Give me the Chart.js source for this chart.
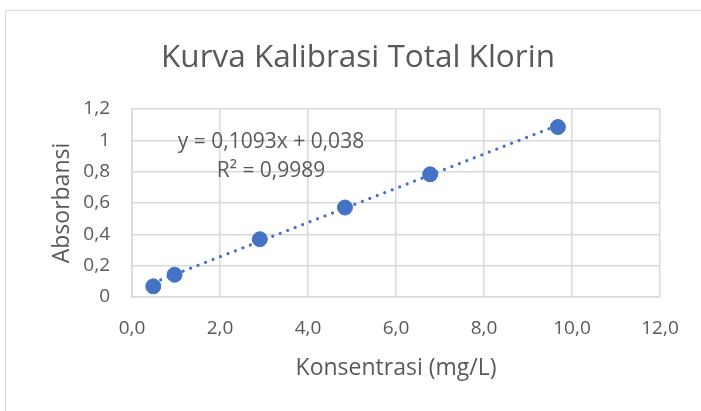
<!DOCTYPE html>
<html>
<head>
<meta charset="utf-8">
<script src="https://cdn.jsdelivr.net/npm/chart.js@4.4.1/dist/chart.umd.min.js"></script>
<style>
  html, body { margin: 0; padding: 0; background: #ffffff; overflow: hidden; }
  #wrap { position: relative; width: 701px; height: 411px; }
  #frame { position: absolute; left: 5px; top: 10px; width: 760px; height: 460px; border: 1px solid #d9d9d9; box-sizing: border-box; }
  canvas { position: absolute; left: 0; top: 0; }
</style>
</head>
<body>
<div id="wrap">
  <div id="frame"></div>
  <canvas id="c" width="701" height="411"></canvas>
</div>
<script>
// Standard solutions: concentration (mg/L) and measured absorbance
const concentrations = [0.484, 0.968, 2.904, 4.84, 6.776, 9.68];
const absorbances = [0.068, 0.142, 0.369, 0.571, 0.783, 1.085];

// Linear fit reported for the calibration
const slope = 0.1093;
const intercept = 0.038;
const rSquared = 0.9989;

const chartTitle = 'Kurva Kalibrasi Total Klorin';
const xTitle = 'Konsentrasi (mg/L)';
const yTitle = 'Absorbansi';

const FONT = '"Open Sans", Lato, sans-serif';
const TEXT = '#595959';
const GRID = '#d9d9d9';
const BLUE = '#4472C4';

const comma = (s) => String(s).replace('.', ',');

const points = concentrations.map((x, i) => ({ x, y: absorbances[i] }));
const xMin = Math.min(...concentrations);
const xMax = Math.max(...concentrations);
const trend = [xMin, xMax].map((x) => ({ x, y: slope * x + intercept }));

// Chart heading, centred over the whole frame
const heading = {
  id: 'heading',
  afterDraw(chart) {
    const { ctx } = chart;
    ctx.save();
    ctx.fillStyle = TEXT;
    ctx.font = '31.5px ' + FONT;
    ctx.textAlign = 'center';
    ctx.textBaseline = 'alphabetic';
    ctx.fillText(chartTitle, 358, 67);
    ctx.restore();
  }
};

// Trendline equation and coefficient of determination
const equationLabel = {
  id: 'equationLabel',
  afterDatasetsDraw(chart) {
    const { ctx, chartArea } = chart;
    ctx.save();
    ctx.fillStyle = TEXT;
    ctx.font = '21px ' + FONT;
    ctx.textAlign = 'center';
    ctx.textBaseline = 'alphabetic';
    const cx = chartArea.left + 139;
    ctx.fillText('y = ' + comma(slope) + 'x + ' + comma(intercept), cx, chartArea.top + 39);
    ctx.fillText('R² = ' + comma(rSquared), cx, chartArea.top + 68);
    ctx.restore();
  }
};

new Chart(document.getElementById('c'), {
  type: 'scatter',
  data: {
    datasets: [
      {
        label: 'Linear',
        data: trend,
        showLine: true,
        borderColor: BLUE,
        borderWidth: 3.2,
        borderDash: [0.01, 8],
        borderCapStyle: 'round',
        pointRadius: 0,
        fill: false,
        order: 2
      },
      {
        label: 'Absorbansi',
        data: points,
        backgroundColor: BLUE,
        borderColor: BLUE,
        pointRadius: 7.5,
        pointHoverRadius: 7.5,
        order: 1
      }
    ]
  },
  options: {
    responsive: false,
    animation: false,
    layout: { padding: { left: 0, right: 41, top: 109, bottom: 0 } },
    plugins: {
      legend: { display: false },
      tooltip: { enabled: false },
      title: { display: false }
    },
    scales: {
      x: {
        type: 'linear',
        min: 0,
        max: 12,
        afterFit(scale) { scale.height = 114; },
        ticks: {
          stepSize: 2,
          color: TEXT,
          font: { family: FONT, size: 19 },
          padding: 20,
          maxRotation: 0,
          callback: (v) => comma(Number(v).toFixed(1))
        },
        grid: { color: GRID, lineWidth: 1.5, drawTicks: false },
        border: { color: GRID, width: 1.5 },
        title: {
          display: true,
          text: xTitle,
          color: TEXT,
          font: { family: FONT, size: 23 },
          padding: { top: 0, bottom: 29 }
        }
      },
      y: {
        type: 'linear',
        min: 0,
        max: 1.2,
        afterFit(scale) { scale.width = 132; },
        ticks: {
          stepSize: 0.2,
          color: TEXT,
          font: { family: FONT, size: 19 },
          padding: 22,
          callback: (v) => comma(Math.round(v * 10) / 10)
        },
        grid: { color: GRID, lineWidth: 1.5, drawTicks: false },
        border: { color: GRID, width: 1.5 },
        title: {
          display: true,
          text: yTitle,
          color: TEXT,
          font: { family: FONT, size: 23 },
          padding: { top: 49, bottom: 0 }
        }
      }
    }
  },
  plugins: [heading, equationLabel]
});
</script>
</body>
</html>
